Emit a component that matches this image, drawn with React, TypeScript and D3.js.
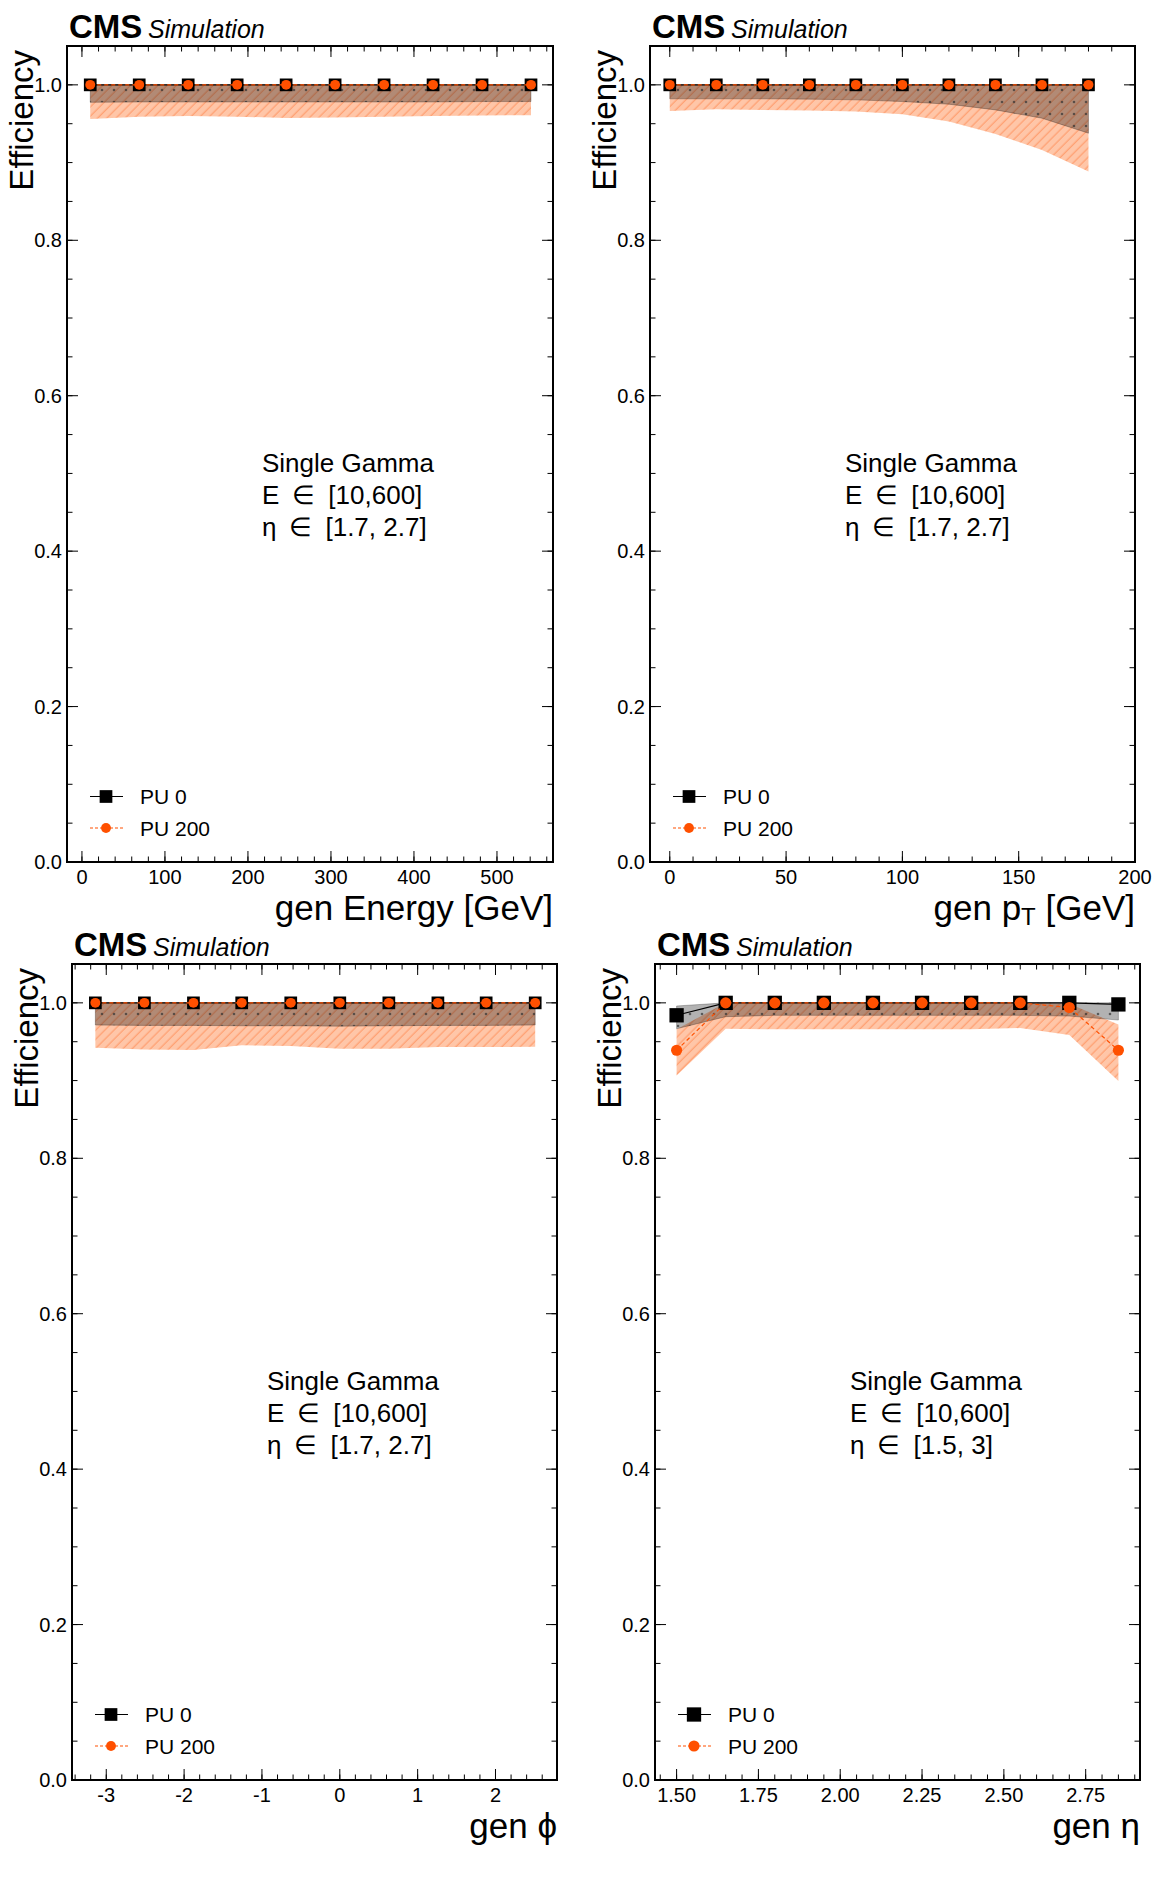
import * as d3 from 'd3';

// ---- data ----
const energyX = [10, 69, 128, 187, 246, 305, 364, 423, 482, 541];
const energyPU0 = [1, 1, 1, 1, 1, 1, 1, 1, 1, 1];
const energyPU0Lo = [0.9775, 0.978, 0.978, 0.978, 0.978, 0.978, 0.978, 0.978, 0.9785, 0.9785];
const energyPU0Hi = [1, 1, 1, 1, 1, 1, 1, 1, 1, 1];
const energyPU200 = [1, 1, 1, 1, 1, 1, 1, 1, 1, 1];
const energyPU200Lo = [0.956, 0.959, 0.96, 0.959, 0.9575, 0.958, 0.959, 0.96, 0.9605, 0.961];
const energyPU200Hi = [1, 1, 1, 1, 1, 1, 1, 1, 1, 1];

const ptX = [0, 20, 40, 60, 80, 100, 120, 140, 160, 180];
const ptPU0 = [1, 1, 1, 1, 1, 1, 1, 1, 1, 1];
const ptPU0Lo = [0.982, 0.982, 0.982, 0.9816, 0.9807, 0.9785, 0.9751, 0.9678, 0.9571, 0.9378];
const ptPU0Hi = [1, 1, 1, 1, 1, 1, 1, 1, 1, 1];
const ptPU200 = [1, 1, 1, 1, 1, 1, 1, 1, 1, 1];
const ptPU200Lo = [0.9665, 0.9687, 0.9678, 0.967, 0.9657, 0.9622, 0.9528, 0.9369, 0.9163, 0.8885];
const ptPU200Hi = [1, 1, 1, 1, 1, 1, 1, 1, 1, 1];

const phiX = [-3.14, -2.51, -1.88, -1.26, -0.63, 0, 0.63, 1.26, 1.88, 2.51];
const phiPU0 = [1, 1, 1, 1, 1, 1, 1, 1, 1, 1];
const phiPU0Lo = [0.9715, 0.971, 0.971, 0.9705, 0.9705, 0.97, 0.9705, 0.971, 0.971, 0.9715];
const phiPU0Hi = [1, 1, 1, 1, 1, 1, 1, 1, 1, 1];
const phiPU200 = [1, 1, 1, 1, 1, 1, 1, 1, 1, 1];
const phiPU200Lo = [0.9423, 0.9401, 0.9393, 0.9453, 0.9444, 0.941, 0.941, 0.9431, 0.9431, 0.9436];
const phiPU200Hi = [1, 1, 1, 1, 1, 1, 1, 1, 1, 1];

const etaX = [1.5, 1.65, 1.8, 1.95, 2.1, 2.25, 2.4, 2.55, 2.7, 2.85];
const etaPU0 = [0.984, 1, 1, 1, 1, 1, 1, 1, 1, 0.998];
const etaPU0Lo = [0.9667, 0.9822, 0.9839, 0.9839, 0.9839, 0.9839, 0.9839, 0.9839, 0.983, 0.9779];
const etaPU0Hi = [0.996, 1, 1, 1, 1, 1, 1, 1, 1, 1];
const etaPU200 = [0.939, 1, 1, 1, 1, 1, 1, 1, 0.994, 0.939];
const etaPU200Lo = [0.9066, 0.9667, 0.9659, 0.9659, 0.9659, 0.9659, 0.9659, 0.9676, 0.9586, 0.8993];
const etaPU200Hi = [0.966, 1, 1, 1, 1, 1, 1, 1, 0.999, 0.972];

const yTicks = [0, 0.2, 0.4, 0.6, 0.8, 1.0];
const energyTicks = [0, 100, 200, 300, 400, 500];
const ptTicks = [0, 50, 100, 150, 200];
const phiTicks = [-3, -2, -1, 0, 1, 2];
const etaTicks = [1.5, 1.75, 2.0, 2.25, 2.5, 2.75];

const legendLabels = ['PU 0', 'PU 200'];

const FONT = "'Liberation Sans', Arial, Helvetica, sans-serif";
const ORANGE = '#ff5000';
const SP = '\u2002';

interface PanelSpec {
  x0: number; x1: number; top: number; bottom: number;
  domain: [number, number];
  xs: number[];
  pu0: number[]; pu0Lo: number[]; pu0Hi: number[];
  pu200: number[]; pu200Lo: number[]; pu200Hi: number[];
  ticks: number[]; fmt: (d: number) => string; minor: number;
  title: React.ReactNode;
  info: string[];
  msize: number;
}

const panels: PanelSpec[] = [
  {
    x0: 67, x1: 553, top: 46, bottom: 862, domain: [-18, 567.5], xs: energyX,
    pu0: energyPU0, pu0Lo: energyPU0Lo, pu0Hi: energyPU0Hi,
    pu200: energyPU200, pu200Lo: energyPU200Lo, pu200Hi: energyPU200Hi,
    ticks: energyTicks, fmt: (d) => `${d}`, minor: 20,
    title: 'gen Energy [GeV]',
    info: ['Single Gamma', `E${SP}\u2208${SP}[10,600]`, `\u03b7${SP}\u2208${SP}[1.7, 2.7]`],
    msize: 12.7,
  },
  {
    x0: 650, x1: 1135, top: 46, bottom: 862, domain: [-8.5, 200], xs: ptX,
    pu0: ptPU0, pu0Lo: ptPU0Lo, pu0Hi: ptPU0Hi,
    pu200: ptPU200, pu200Lo: ptPU200Lo, pu200Hi: ptPU200Hi,
    ticks: ptTicks, fmt: (d) => `${d}`, minor: 10,
    title: (
      <>
        {'gen p'}
        <tspan dy={5} fontSize={24}>T</tspan>
        <tspan dy={-5}>{' [GeV]'}</tspan>
      </>
    ),
    info: ['Single Gamma', `E${SP}\u2208${SP}[10,600]`, `\u03b7${SP}\u2208${SP}[1.7, 2.7]`],
    msize: 12.7,
  },
  {
    x0: 72, x1: 557, top: 964, bottom: 1780, domain: [-3.44, 2.79], xs: phiX,
    pu0: phiPU0, pu0Lo: phiPU0Lo, pu0Hi: phiPU0Hi,
    pu200: phiPU200, pu200Lo: phiPU200Lo, pu200Hi: phiPU200Hi,
    ticks: phiTicks, fmt: (d) => `${d}`, minor: 0.2,
    title: 'gen \u03d5',
    info: ['Single Gamma', `E${SP}\u2208${SP}[10,600]`, `\u03b7${SP}\u2208${SP}[1.7, 2.7]`],
    msize: 12.7,
  },
  {
    x0: 655, x1: 1140, top: 964, bottom: 1780, domain: [1.434, 2.916], xs: etaX,
    pu0: etaPU0, pu0Lo: etaPU0Lo, pu0Hi: etaPU0Hi,
    pu200: etaPU200, pu200Lo: etaPU200Lo, pu200Hi: etaPU200Hi,
    ticks: etaTicks, fmt: d3.format('.2f'), minor: 0.05,
    title: 'gen \u03b7',
    info: ['Single Gamma', `E${SP}\u2208${SP}[10,600]`, `\u03b7${SP}\u2208${SP}[1.5, 3]`],
    msize: 14.3,
  },
];

function stepsIn(lo: number, hi: number, step: number) {
  const out: number[] = [];
  for (let k = Math.ceil(lo / step - 1e-6); k * step <= hi + 1e-6; k++) out.push(k * step);
  return out;
}

function Panel({ p }: { p: PanelSpec }) {
  const x = d3.scaleLinear().domain(p.domain).range([p.x0, p.x1]);
  const y = d3.scaleLinear().domain([0, 1.05]).range([p.bottom, p.top]);
  const idx = d3.range(p.xs.length);
  const band = (lo: number[], hi: number[]) =>
    d3.area<number>().x((i) => x(p.xs[i])).y0((i) => y(lo[i])).y1((i) => y(hi[i]))(idx) ?? '';
  const line = (v: number[]) =>
    d3.line<number>().x((i) => x(p.xs[i])).y((i) => y(v[i]))(idx) ?? '';

  const minorX = stepsIn(p.domain[0], p.domain[1], p.minor).filter((v) => x(v) > p.x0 + 1 && x(v) < p.x1 - 1);
  const minorY = stepsIn(0, 1.05, 0.05);
  const s = p.msize;
  const r = s * 0.39;
  const legY0 = p.bottom - 65.5;
  const legY1 = p.bottom - 34;
  const lx = p.x0 + 39;

  return (
    <g>
      {/* PU 200 band */}
      <path d={band(p.pu200Lo, p.pu200Hi)} fill="url(#hatch)" />
      {/* PU 0 band */}
      <path d={band(p.pu0Lo, p.pu0Hi)} fill="rgba(0,0,0,0.3)" stroke="rgba(0,0,0,0.25)" strokeWidth={1} />
      <path d={band(p.pu0Lo, p.pu0Hi)} fill="url(#dots)" />

      {/* PU 0 */}
      <path d={line(p.pu0)} fill="none" stroke="#000" strokeWidth={1.2} />
      {idx.map((i) => (
        <rect key={i} x={x(p.xs[i]) - s / 2} y={y(p.pu0[i]) - s / 2} width={s} height={s} fill="#000" />
      ))}
      {/* PU 200 */}
      <path d={line(p.pu200)} fill="none" stroke={ORANGE} strokeWidth={1.2} strokeDasharray="4,3" />
      {idx.map((i) => (
        <circle key={i} cx={x(p.xs[i])} cy={y(p.pu200[i])} r={r} fill={ORANGE} />
      ))}

      {/* ticks */}
      {minorX.map((v) => (
        <g key={'mx' + v} stroke="#000" strokeWidth={1}>
          <line x1={x(v)} x2={x(v)} y1={p.bottom} y2={p.bottom - 5.5} />
          <line x1={x(v)} x2={x(v)} y1={p.top} y2={p.top + 5.5} />
        </g>
      ))}
      {p.ticks.map((v) => (
        <g key={'x' + v}>
          <line x1={x(v)} x2={x(v)} y1={p.bottom} y2={p.bottom - 11} stroke="#000" />
          <line x1={x(v)} x2={x(v)} y1={p.top} y2={p.top + 11} stroke="#000" />
          <text x={x(v)} y={p.bottom + 22} textAnchor="middle" fontSize={20}>{p.fmt(v)}</text>
        </g>
      ))}
      {minorY.map((v) => (
        <g key={'my' + v} stroke="#000" strokeWidth={1}>
          <line x1={p.x0} x2={p.x0 + 5.5} y1={y(v)} y2={y(v)} />
          <line x1={p.x1} x2={p.x1 - 5.5} y1={y(v)} y2={y(v)} />
        </g>
      ))}
      {yTicks.map((v) => (
        <g key={'y' + v}>
          <line x1={p.x0} x2={p.x0 + 11} y1={y(v)} y2={y(v)} stroke="#000" />
          <line x1={p.x1} x2={p.x1 - 11} y1={y(v)} y2={y(v)} stroke="#000" />
          <text x={p.x0 - 5} y={y(v)} dy="0.35em" textAnchor="end" fontSize={20}>{d3.format('.1f')(v)}</text>
        </g>
      ))}

      <rect x={p.x0} y={p.top} width={p.x1 - p.x0} height={p.bottom - p.top} fill="none" stroke="#000" strokeWidth={2} />

      {/* titles */}
      <text x={p.x1} y={p.bottom + 58} textAnchor="end" fontSize={35}>{p.title}</text>
      <text transform={`translate(${p.x0 - 34},${p.top + 4}) rotate(-90)`} textAnchor="end" fontSize={33}>Efficiency</text>
      <text x={p.x0 + 2} y={p.top - 8} fontSize={33} fontWeight="bold">CMS</text>
      <text x={p.x0 + 81} y={p.top - 8} fontSize={25} fontStyle="italic">Simulation</text>

      {/* info */}
      {p.info.map((t, i) => (
        <text key={t} x={p.x0 + 195} y={p.top + 426 + i * 32} fontSize={26}>{t}</text>
      ))}

      {/* legend */}
      <line x1={p.x0 + 23} x2={p.x0 + 56} y1={legY0} y2={legY0} stroke="#000" strokeWidth={1.2} />
      <rect x={lx - s / 2} y={legY0 - s / 2} width={s} height={s} fill="#000" />
      <text x={p.x0 + 73} y={legY0 + 7.5} fontSize={21}>{legendLabels[0]}</text>
      <line x1={p.x0 + 23} x2={p.x0 + 56} y1={legY1} y2={legY1} stroke={ORANGE} strokeWidth={1.2} strokeDasharray="3,2" />
      <circle cx={lx} cy={legY1} r={r} fill={ORANGE} />
      <text x={p.x0 + 73} y={legY1 + 7.5} fontSize={21}>{legendLabels[1]}</text>
    </g>
  );
}

export default function App() {
  return (
    <svg
      width={1159}
      height={1900}
      style={{ position: 'absolute', left: 0, top: 0, background: '#fff' }}
      fontFamily={FONT}
    >
      <defs>
        <pattern id="hatch" patternUnits="userSpaceOnUse" width={6.5} height={6.5} patternTransform="rotate(45)">
          <rect width={6.5} height={6.5} fill="#ffc6a8" />
          <line x1={3} y1={0} x2={3} y2={6.5} stroke="#ff9a6a" strokeWidth={1.1} />
        </pattern>
        <pattern id="dots" patternUnits="userSpaceOnUse" width={12} height={12}>
          <circle cx={6} cy={6} r={1.3} fill="#333" fillOpacity={0.7} />
        </pattern>
      </defs>
      <rect width={1159} height={1900} fill="#fff" />
      {panels.map((p, i) => (
        <Panel key={i} p={p} />
      ))}
    </svg>
  );
}
